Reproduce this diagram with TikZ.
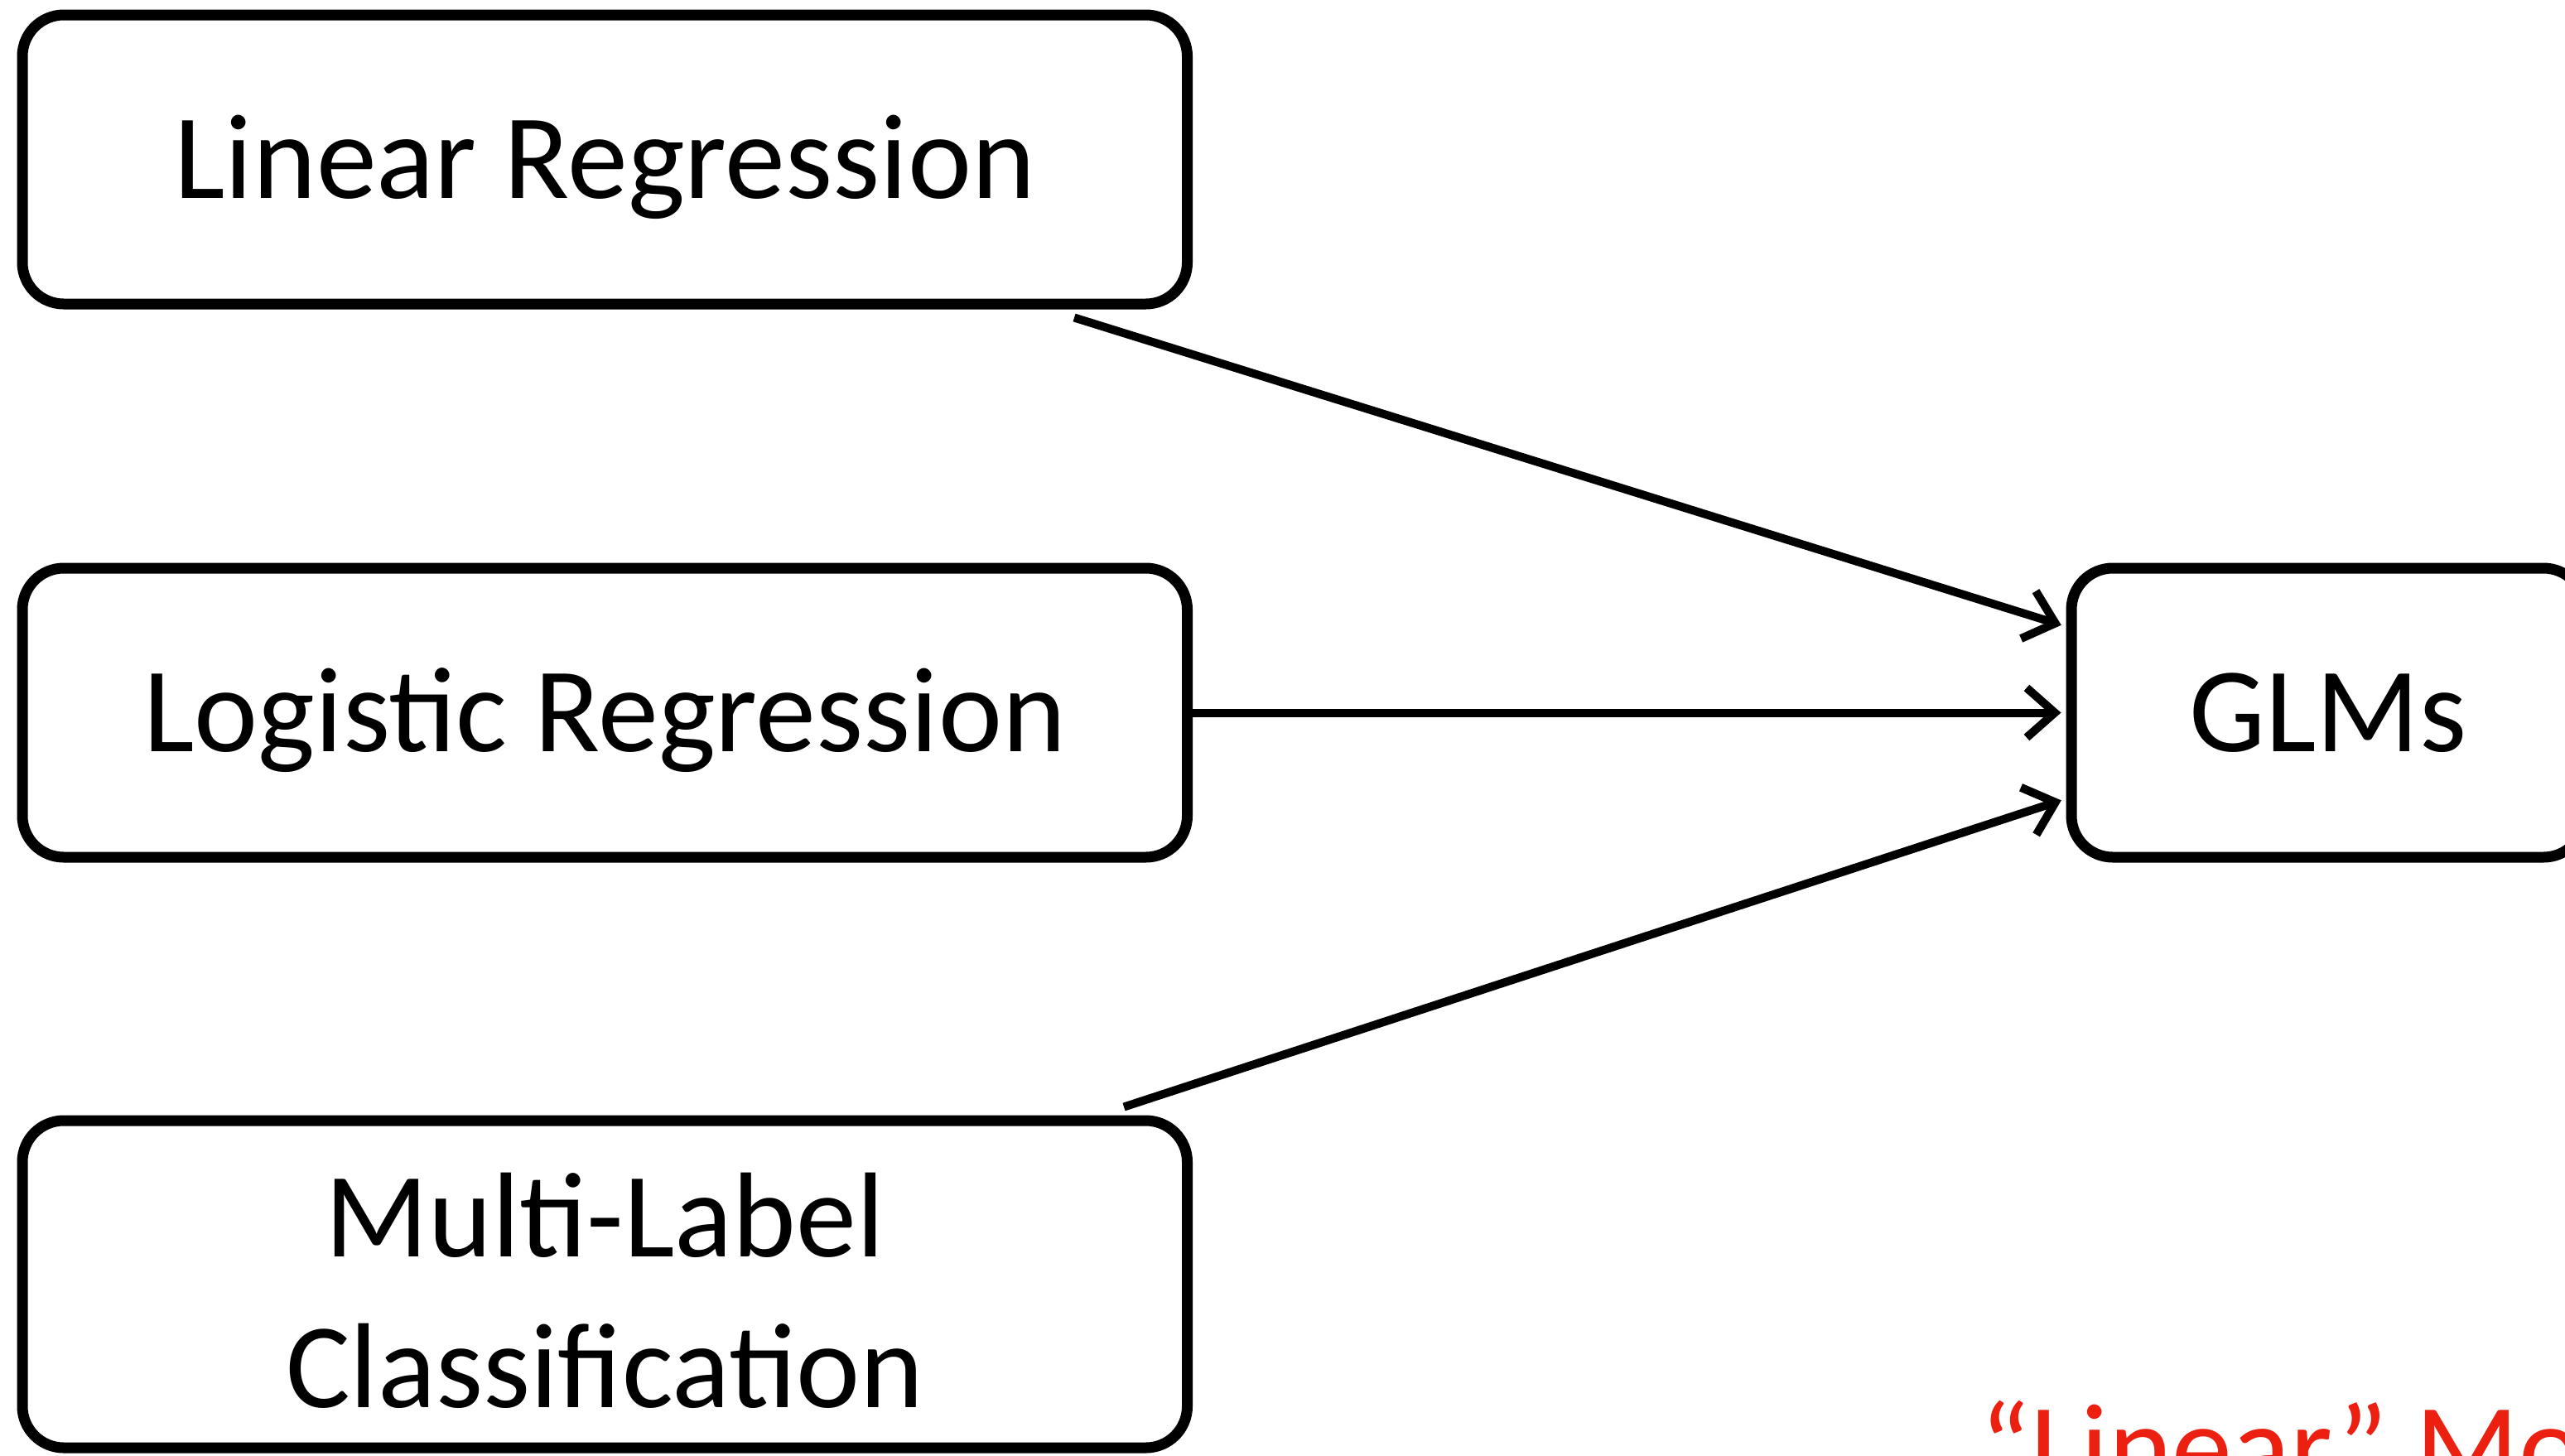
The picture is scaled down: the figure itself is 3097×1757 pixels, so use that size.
\documentclass[tikz,border=0pt]{standalone}
\usepackage{fontspec}
\setmainfont{Carlito}
\usetikzlibrary{arrows.meta}
\definecolor{redtxt}{RGB}{236,32,16}
\begin{document}
\begin{tikzpicture}[x=0.5pt,y=-0.5pt,
  box/.style={draw, line width=6.5pt, rounded corners=25pt, inner sep=0pt, align=center,
    font=\fontsize{73pt}{91pt}\selectfont},
  oneline/.style={text height=46.5pt, text depth=0pt},
  conn/.style={line width=5pt, shorten >=3pt, -{Straight Barb[length=17pt,width=30pt]}}]
\useasboundingbox (0,0) rectangle (3097,1757);
\clip (0,0) rectangle (3097,1757);
\node[box, oneline, minimum width=703.25pt, minimum height=174.5pt] (lin) at (730.25,192.5) {Linear Regression};
\node[box, oneline, minimum width=703.25pt, minimum height=174.5pt] (log) at (730.25,860.5) {Logistic Regression};
\node[box, minimum width=703.25pt, minimum height=197.5pt] (mul) at (730.25,1550.5) {\rule{0pt}{59pt}Multi-Label\\Classification};
\node[box, oneline, minimum width=310pt, minimum height=174.5pt] (glm) at (2811,860.5) {GLMs};
\node[anchor=base west, text=redtxt, inner sep=0pt, font=\fontsize{73pt}{88pt}\selectfont] (red) at (2390,1796) {“Linear” Models};
\coordinate (s1) at ([xshift=283.4pt,yshift=-5pt]lin.south);
\coordinate (s3) at ([xshift=313.4pt,yshift=5pt]mul.north);
\coordinate (e1) at ([yshift=52pt]glm.west);
\coordinate (e3) at ([yshift=-52pt]glm.west);
\draw[conn] (s1) -- (e1);
\draw[conn] (log.east) -- (glm.west);
\draw[conn] (s3) -- (e3);
\end{tikzpicture}
\end{document}
